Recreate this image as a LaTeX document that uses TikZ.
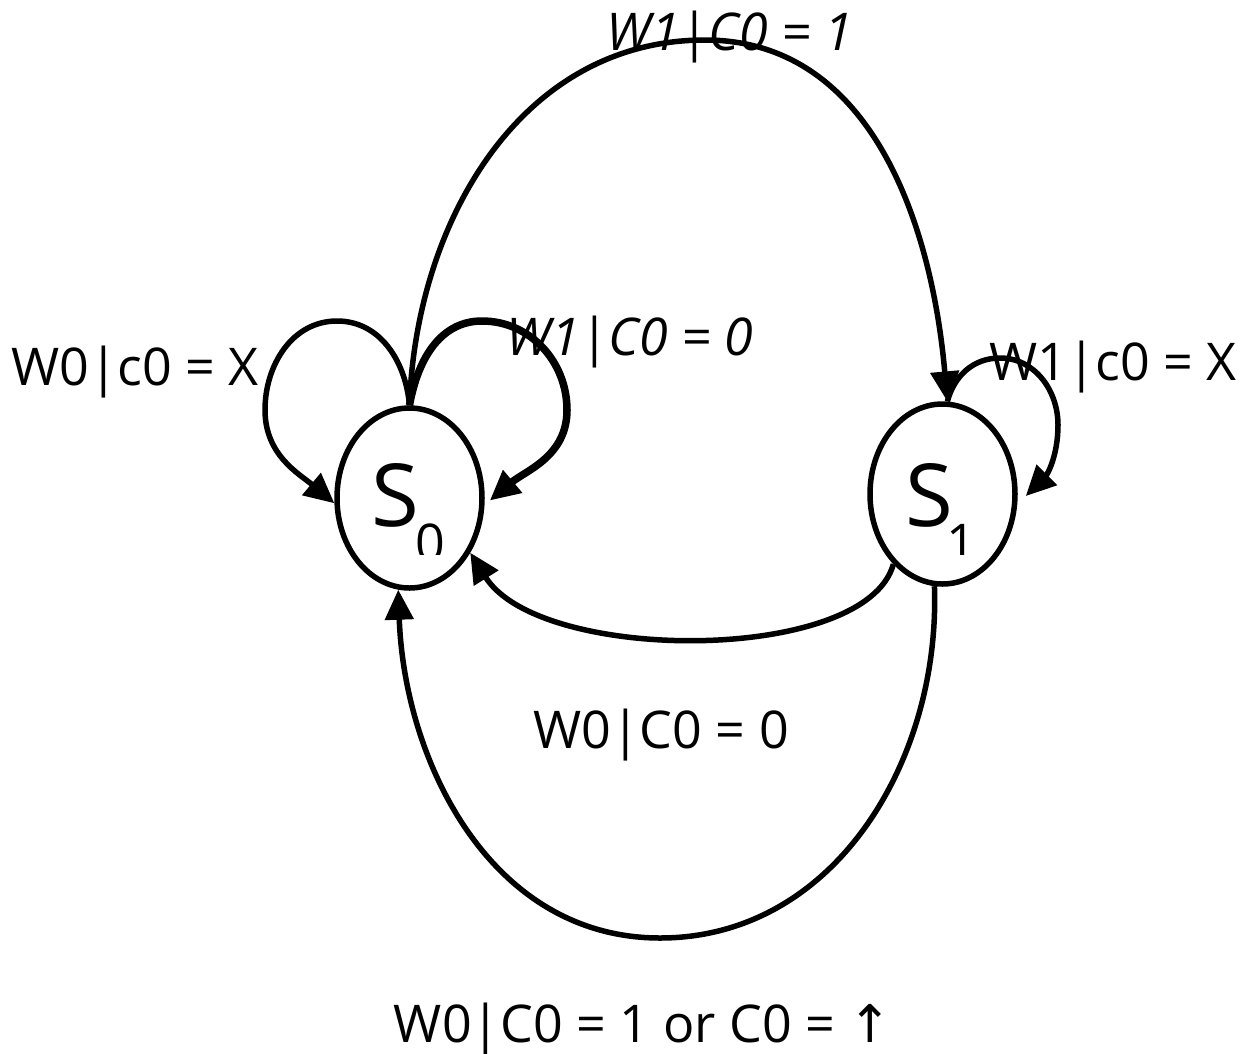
\documentclass[tikz,border=0pt]{standalone}
\usepackage{fontspec}
\setmainfont{Open Sans}
\newfontfamily\symfont{DejaVu Sans}
\usetikzlibrary{arrows.meta,shapes.geometric}

\begin{document}
\begin{tikzpicture}[x=1pt,y=1pt,
  state/.style={draw, ellipse, line width=5.5pt, minimum width=145pt, minimum height=180pt, inner sep=0pt},
  edge/.style={line width=5.5pt, -{Triangle[length=30pt,width=28pt]}},
  lbl/.style={anchor=base, inner sep=0pt, font=\fontsize{52}{60}\selectfont},
  ilbl/.style={lbl, font=\fontsize{52}{60}\selectfont\itshape},
  big/.style={anchor=base, inner sep=0pt, font=\fontsize{87}{90}\selectfont},
  sub/.style={anchor=base, inner sep=0pt, font=\fontsize{52}{54}\selectfont}]
\useasboundingbox (0,0) rectangle (1251,-1053);

% states
\node[state] (s0) at (409.5,-498) {};
\node[state] (s1) at (942.5,-494) {};
\node[big] (s0S) at (395,-526) {S};
\node[big] (s1S) at (929,-526) {S};
% subscripts, trimmed flat at the bottom
\begin{scope}
  \clip (300,-554) rectangle (1100,-500);
  \node[sub] (s0n) at (430,-561) {0};
  \node[sub] (s1n) at (961,-561) {1};
\end{scope}

% self loops on S0
\draw[edge] (s0.north) to[out=95,in=0] (337,-321) to[out=180,in=90] (265,-410)
  to[out=-90,in=140] (s0.184);
\draw[edge, line width=7.5pt] (s0.north) to[out=80,in=180] (482,-321) to[out=0,in=90] (567,-410)
  to[out=-90,in=40] ([xshift=5pt]s0.358);

% S0 -> S1 over the top
\draw[edge] (s0.north) to[out=88,in=180] (705,-40) to[out=0,in=95] (s1.87);

% self loop on S1
\draw[edge] (s1.87) to[out=75,in=180] (1000,-358) to[out=0,in=90] (1058,-425)
  to[out=-90,in=45] ([xshift=8pt,yshift=-2pt]s1.east);

% S1 -> S0 underneath
\draw[edge] (s1.235) .. controls (866,-664) and (540,-664) .. (s0.318);

% S1 -> S0 round the bottom
\draw[edge] (s1.265) to[out=-88,in=0] (660,-938) to[out=180,in=-88] (s0.263);

% transition labels
\node[ilbl] (l1) at (730,-50) {W1|C0 = 1};
\node[ilbl] (l2) at (630,-355) {W1|C0 = 0};
\node[lbl] (l3) at (135,-385) {W0|c0 = X};
\node[lbl] (l4) at (1113,-380) {W1|c0 = X};
\node[lbl] (l5) at (661,-748) {W0|C0 = 0};
\node[lbl] (l6) at (643,-1042) {W0|C0 = 1 or C0 = {\symfont ↑}};
\end{tikzpicture}
\end{document}
